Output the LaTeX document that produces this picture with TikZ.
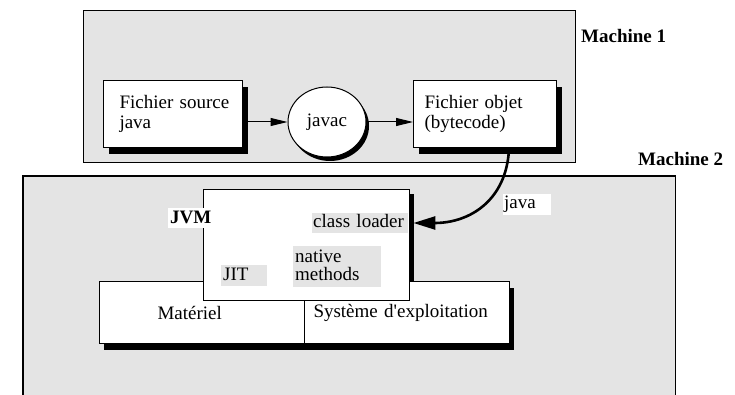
\documentclass[tikz,border=0pt]{standalone}
\usepackage{fontspec}
\setmainfont{Liberation Serif}
\usetikzlibrary{arrows.meta,shapes.geometric,shadows,calc}
\definecolor{machgray}{HTML}{E4E4E4}
\definecolor{labgray}{HTML}{E4E4E4}
\tikzset{
  txt/.style={font=\fontsize{19}{20}\selectfont},
  title/.style={font=\fontsize{19}{20}\selectfont\bfseries, inner sep=0pt},
  mach/.style={fill=machgray, draw=black, line width=1.1pt, inner sep=0pt},
  solidshadow/.style 2 args={drop shadow={shadow xshift=#1pt, shadow yshift=-#2pt, fill=black, opacity=1}},
  whitebox/.style={draw=black, fill=white, line width=1pt, txt, align=left, inner ysep=0pt},
  lab/.style={fill=labgray, txt, inner ysep=0pt, inner xsep=1pt, align=left},
  arr/.style={line width=1pt, -{Triangle[length=17pt, width=8pt]}},
  bigarr/.style={line width=2.6pt, -{Triangle[length=22pt, width=13pt]}}
}
\begin{document}
\begin{tikzpicture}[x=1pt, y=-1pt]
\useasboundingbox (0,0) rectangle (735,395);

% ---- Machine 1: compilation ----
\node[mach, anchor=north west, minimum width=492pt, minimum height=152pt] (m1) at (83,10) {};
\node[title, anchor=base west] (m1lab) at (581,43) {Machine 1};

\node[whitebox, solidshadow={5}{7}, anchor=north west, inner xsep=16pt, text width=107pt,
      minimum height=67pt] (src) at (103,80) {\mbox{Fichier source}\\java};
\node[ellipse, draw=black, fill=white, line width=1pt, txt, inner sep=0pt,
      minimum width=78pt, minimum height=70pt, solidshadow={3}{4}] (javac) at (327,122) {javac};
\node[whitebox, solidshadow={5}{7}, anchor=north west, inner xsep=11pt, text width=121pt,
      minimum height=67pt] (obj) at (413,80) {Fichier objet\\(bytecode)};

\draw[arr] (src.east |- javac.west) -- (javac.west);
\draw[arr] (javac.east) -- (obj.west |- javac.east);

% ---- Machine 2: execution ----
\node[fill=machgray, inner sep=0pt, anchor=north west, minimum width=652pt, minimum height=222pt] (m2) at (23,176) {};
\draw[line width=1.1pt] (m2.south west) -- (m2.north west) -- (m2.north east) -- (m2.south east);
\node[title, anchor=base west] (m2lab) at (638,166) {Machine 2};

% JVM box first, so that its shadow lies under the lower layer
\node[draw=black, fill=white, line width=1pt, inner sep=0pt, anchor=north west,
      minimum width=205pt, minimum height=109pt, solidshadow={5}{4}] (jvm) at (203,190) {};

\node[whitebox, solidshadow={4}{6}, anchor=north west, inner xsep=58pt, text width=89pt,
      minimum height=62pt] (mat) at (99,281) {Matériel};
\node[whitebox, solidshadow={4}{6}, anchor=north west, inner xsep=9pt, text width=187pt,
      minimum height=62pt] (sys) at (304,281) {Système d\textquotesingle exploitation};

% JVM box again, on top of the hardware / OS layer
\draw[line width=1pt, fill=white] (jvm.north west) rectangle (jvm.south east);

\node[title, fill=white, anchor=base west, inner xsep=2pt, text height=15pt, text depth=5pt] (jvmlab) at (168,223) {JVM};
\node[lab, anchor=base west, text width=94pt, text height=14pt, text depth=6pt] (cl) at (312,227) {class loader};
\node[lab, anchor=base west, inner xsep=2pt, text width=42pt, text height=15pt, text depth=6pt] (jit) at (221,280) {JIT};
\node[lab, anchor=base west, inner xsep=2pt, text width=84pt, text height=16pt, text depth=25pt,
      font=\fontsize{19}{18}\selectfont] (nat) at (293,262) {native\\methods};

% loading the bytecode with "java"
\node[fill=white, txt, anchor=base west, inner ysep=0pt, inner xsep=1pt, text width=46pt,
      text height=15pt, text depth=6pt, align=left] (javalab) at (503,209) {java};
\coordinate (objout) at ($(obj.south west)!0.667!(obj.south east)$);
\coordinate (clin) at ([xshift=5pt]cl.east);
\draw[bigarr] (objout) .. controls (507,200) and (470,223) .. (clin);
\end{tikzpicture}
\end{document}
